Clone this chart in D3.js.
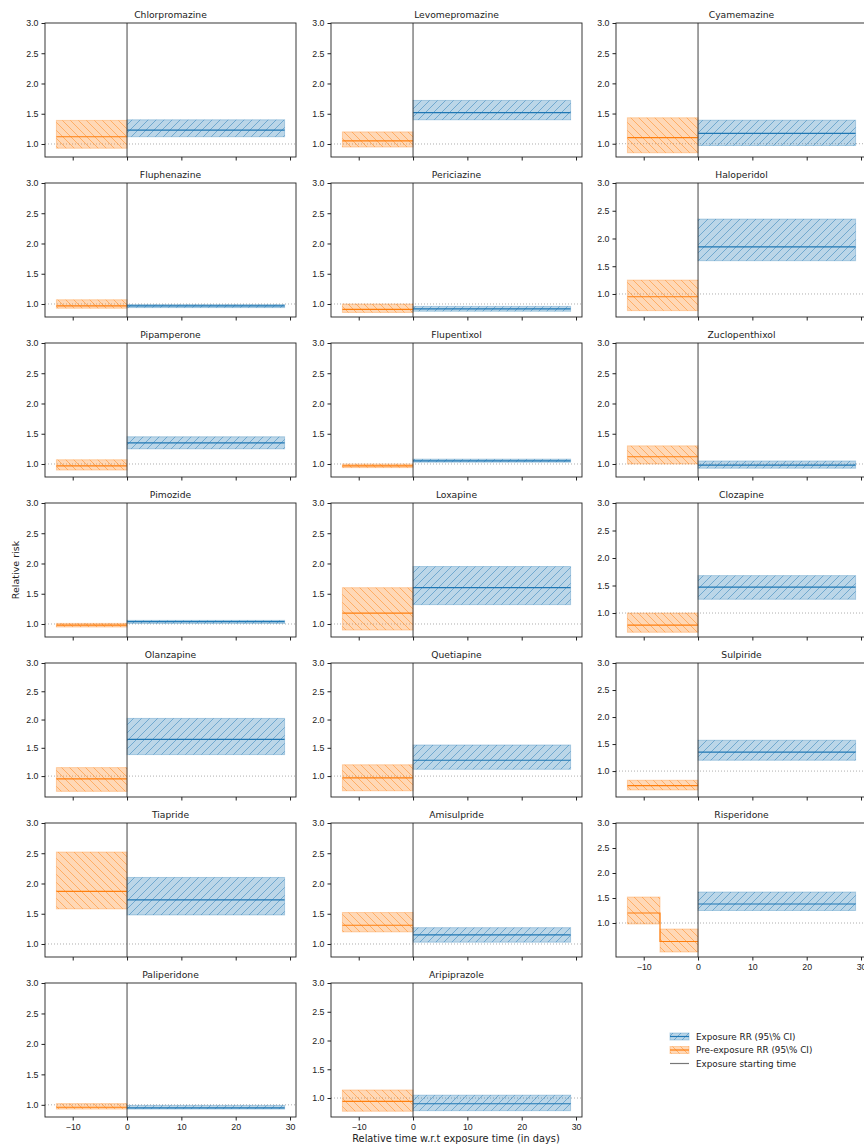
<!DOCTYPE html>
<html lang="en">
<head>
<meta charset="UTF-8">
<script src="https://d3js.org/d3.v7.min.js"></script>
<style>
  body { margin: 0; background: #fff; font-family: "DejaVu Sans", sans-serif; }
  .tick text { font-size: 8.8px; fill: #222; }
  .title { font-size: 9.2px; fill: #222; }
</style>
</head>
<body>
<svg width="864" height="1146"></svg>
<script>
// --- data ---
const drugs = ["Chlorpromazine","Levomepromazine","Cyamemazine","Fluphenazine","Periciazine","Haloperidol",
  "Pipamperone","Flupentixol","Zuclopenthixol","Pimozide","Loxapine","Clozapine",
  "Olanzapine","Quetiapine","Sulpiride","Tiapride","Amisulpride","Risperidone","Paliperidone","Aripiprazole"];
// pre-exposure segments: [start, end, RR, lo, hi]
const preSegments = [
  [[-13,0,1.12,0.93,1.39]], [[-13,0,1.05,0.95,1.20]], [[-13,0,1.10,0.85,1.43]],
  [[-13,0,0.97,0.93,1.07]], [[-13,0,0.91,0.86,1.00]], [[-13,0,0.95,0.70,1.25]],
  [[-13,0,0.97,0.90,1.07]], [[-13,0,0.97,0.94,1.00]], [[-13,0,1.12,1.00,1.30]],
  [[-13,0,0.98,0.95,1.01]], [[-13,0,1.18,0.90,1.60]], [[-13,0,0.78,0.65,1.00]],
  [[-13,0,0.95,0.73,1.15]], [[-13,0,0.97,0.74,1.20]], [[-13,0,0.73,0.65,0.83]],
  [[-13,0,1.87,1.58,2.52]], [[-13,0,1.31,1.20,1.52]], [[-13,-7,1.20,0.98,1.52],[-7,0,0.63,0.42,0.88]],
  [[-13,0,0.96,0.93,1.02]], [[-13,0,0.94,0.77,1.14]]
];
// exposure: [start, end, RR, lo, hi]
const exposure = [
  [0,29,1.23,1.12,1.40],[0,29,1.52,1.40,1.72],[0,29,1.17,0.97,1.39],
  [0,29,0.97,0.94,0.99],[0,29,0.92,0.88,0.96],[0,29,1.85,1.60,2.35],
  [0,29,1.35,1.25,1.45],[0,29,1.05,1.03,1.08],[0,29,0.98,0.93,1.05],
  [0,29,1.04,1.01,1.06],[0,29,1.60,1.32,1.95],[0,29,1.47,1.25,1.68],
  [0,29,1.65,1.38,2.02],[0,29,1.28,1.12,1.55],[0,29,1.35,1.20,1.57],
  [0,29,1.73,1.48,2.10],[0,29,1.15,1.03,1.27],[0,29,1.38,1.25,1.62],
  [0,29,0.95,0.93,0.99],[0,29,0.90,0.78,1.05]
];
const yMin = [0.785,0.785,0.78,0.785,0.785,0.585,0.785,0.785,0.785,0.785,0.785,0.564,
  0.63,0.63,0.52,0.785,0.785,0.32,0.80,0.67];
const xDomain = [-15.1, 31.1];
const xTicks = [-10, 0, 10, 20, 30];
const yTicks = [1.0, 1.5, 2.0, 2.5, 3.0];

const BLUE = "#1f77b4", ORANGE = "#ff7f0e";
const svg = d3.select("svg");
const defs = svg.append("defs");
function hatch(id, color, dir) {
  const p = defs.append("pattern").attr("id", id).attr("patternUnits", "userSpaceOnUse")
    .attr("width", 8).attr("height", 8);
  const d = dir > 0 ? "M-2,2 L2,-2 M0,8 L8,0 M6,10 L10,6" : "M-2,6 L2,10 M0,0 L8,8 M6,-2 L10,2";
  p.append("path").attr("d", d).attr("stroke", color).attr("stroke-width", 0.6).attr("opacity", 0.8);
}
hatch("hb", BLUE, 1);
hatch("ho", ORANGE, -1);

const colX = [45, 331, 616], W = 251, H = 134;

drugs.forEach((name, i) => {
  const col = i % 3, row = Math.floor(i / 3);
  const g = svg.append("g").attr("transform", `translate(${colX[col]},${23 + row * 160})`);
  const x = d3.scaleLinear().domain(xDomain).range([0, W]);
  const y = d3.scaleLinear().domain([yMin[i], 3.0]).range([H, 0]);

  g.append("line").attr("x1", 0).attr("x2", W).attr("y1", y(1)).attr("y2", y(1))
    .attr("stroke", "#999").attr("stroke-width", 0.8).attr("stroke-dasharray", "1,2");

  function band(s, color, pat) {
    const [a, b, m, lo, hi] = s;
    g.append("rect").attr("x", x(a)).attr("width", x(b) - x(a)).attr("y", y(hi)).attr("height", y(lo) - y(hi))
      .attr("fill", color).attr("fill-opacity", 0.3).attr("stroke", color).attr("stroke-opacity", 0.3);
    g.append("rect").attr("x", x(a)).attr("width", x(b) - x(a)).attr("y", y(hi)).attr("height", y(lo) - y(hi))
      .attr("fill", `url(#${pat})`);
  }
  preSegments[i].forEach(s => band(s, ORANGE, "ho"));
  band(exposure[i], BLUE, "hb");

  // step line for pre-exposure
  const pts = [];
  preSegments[i].forEach(s => { pts.push([s[0], s[2]]); pts.push([s[1], s[2]]); });
  g.append("path").attr("d", d3.line().x(d => x(d[0])).y(d => y(d[1]))(pts))
    .attr("fill", "none").attr("stroke", ORANGE).attr("stroke-width", 1.2);
  const e = exposure[i];
  g.append("line").attr("x1", x(e[0])).attr("x2", x(e[1])).attr("y1", y(e[2])).attr("y2", y(e[2]))
    .attr("stroke", BLUE).attr("stroke-width", 1.2);

  g.append("line").attr("x1", x(0)).attr("x2", x(0)).attr("y1", 0).attr("y2", H)
    .attr("stroke", "#444").attr("stroke-width", 1);

  g.append("rect").attr("width", W).attr("height", H).attr("fill", "none").attr("stroke", "#222").attr("stroke-width", 0.9);

  const showX = (i >= 18) || i === 17;
  const xa = g.append("g").attr("transform", `translate(0,${H})`)
    .call(d3.axisBottom(x).tickValues(xTicks).tickSize(3.5).tickSizeOuter(0)
      .tickFormat(showX ? (d => d < 0 ? "\u2212" + Math.abs(d) : d) : ""));
  const ya = g.append("g").call(d3.axisLeft(y).tickValues(yTicks).tickSize(3.5).tickSizeOuter(0).tickFormat(d3.format(".1f")));
  [xa, ya].forEach(a => { a.select(".domain").remove(); a.selectAll("line").attr("stroke", "#222"); });

  g.append("text").attr("class", "title").attr("x", W / 2).attr("y", -5).attr("text-anchor", "middle").text(name);
});

svg.append("text").attr("transform", "translate(19,570) rotate(-90)").attr("text-anchor", "middle")
  .attr("font-size", 9.5).attr("fill", "#222").text("Relative risk");
svg.append("text").attr("x", 456).attr("y", 1142).attr("text-anchor", "middle")
  .attr("font-size", 9.8).attr("fill", "#222").text("Relative time w.r.t exposure time (in days)");

// legend
const lg = svg.append("g").attr("transform", "translate(670,1036)");
const items = [["Exposure RR (95\\% CI)", BLUE, "hb"], ["Pre-exposure RR (95\\% CI)", ORANGE, "ho"], ["Exposure starting time", "#777", null]];
items.forEach((it, k) => {
  const gy = k * 13.5;
  if (it[2]) {
    lg.append("rect").attr("x", 0).attr("y", gy - 3).attr("width", 19).attr("height", 7)
      .attr("fill", it[1]).attr("fill-opacity", 0.3).attr("stroke", it[1]).attr("stroke-opacity", 0.3);
    lg.append("rect").attr("x", 0).attr("y", gy - 3).attr("width", 19).attr("height", 7).attr("fill", `url(#${it[2]})`);
  }
  lg.append("line").attr("x1", 0).attr("x2", 19).attr("y1", gy + 0.5).attr("y2", gy + 0.5)
    .attr("stroke", it[1]).attr("stroke-width", 1.2);
  lg.append("text").attr("x", 26).attr("y", gy + 3.5).attr("font-size", 8.8).attr("fill", "#222").text(it[0]);
});
</script>
</body>
</html>
